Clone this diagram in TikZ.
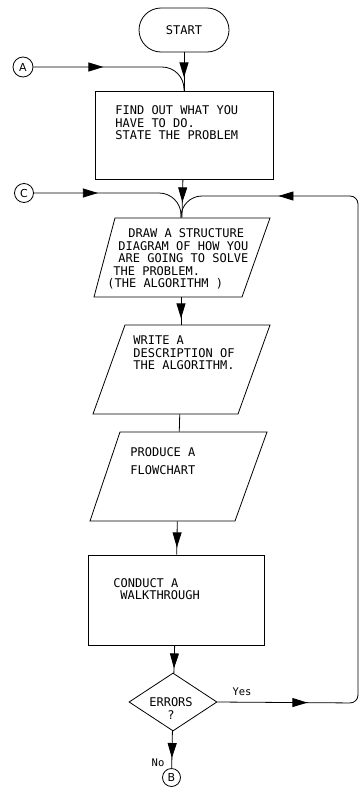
\documentclass[tikz,border=0pt]{standalone}
\usepackage{fontspec}
\newfontfamily\plotfont{DejaVu Sans Mono}
\newfontfamily\circfont{DejaVu Sans}
\usetikzlibrary{shapes.geometric,arrows.meta,decorations.markings}
\begin{document}
\begin{tikzpicture}[x=1pt,y=-1pt,line width=0.8pt,
  every node/.style={font=\plotfont\fontsize{12}{12.5}\selectfont},
  term/.style={draw,rounded corners=22pt,minimum width=90pt,minimum height=44pt,inner sep=0},
  procbox/.style={draw,inner sep=0},
  ioanchor/.style={draw=none,inner sep=0,minimum width=150pt},
  decide/.style={draw,diamond,inner sep=0,minimum width=88pt,minimum height=58pt},
  conn/.style={draw,circle,inner sep=0,font=\circfont\fontsize{11}{11}\selectfont},
  txt/.style={anchor=north west,align=left,inner sep=0},
  lbl/.style={inner sep=0,font=\plotfont\fontsize{10.5}{11}\selectfont},
  arrowat/.style={postaction={decorate},decoration={markings,mark=at position #1 with {\arrow{Triangle[length=15pt,width=9pt]}}}},
  arrowtwo/.style n args={2}{postaction={decorate},decoration={markings,
     mark=at position #1 with {\arrow{Triangle[length=15pt,width=9pt]}},
     mark=at position #2 with {\arrow{Triangle[length=15pt,width=9pt]}}}}
]
\useasboundingbox (0,0) rectangle (361,792);

% shapes
\node[term] (start) at (184,30) {START};
\node[procbox,minimum width=178pt,minimum height=88pt] (box1) at (184,135) {};
\node[ioanchor,minimum height=79pt] (para1) at (181,257.5) {};
\draw (115,218) -- (270,218) -- (242,297) -- (94,297) -- cycle;
\node[ioanchor,minimum height=89pt] (para2) at (181,369.5) {};
\draw (125,325) -- (270,325) -- (238,414) -- (93,414) -- cycle;
\node[ioanchor,minimum height=89pt] (para3) at (178,476.5) {};
\draw (120,432) -- (267,432) -- (235,521) -- (90,521) -- cycle;
\node[procbox,minimum width=176pt,minimum height=90pt] (box2) at (176,600) {};
\node[decide] (dia) at (173,702) {};

\node[conn,minimum size=20pt] (A) at (23,67) {A};
\node[conn,minimum size=19pt] (C) at (24,193) {C};
\node[conn,minimum size=18pt] (B) at (171.5,777.5) {B};

% texts
\node[txt] (t1) at (115,105.5) {FIND OUT WHAT YOU\\HAVE TO DO.\\STATE THE PROBLEM};
\node[txt] (t2) at (107,228.5) {\hspace*{21pt}DRAW A STRUCTURE\\\hspace*{11pt}DIAGRAM OF HOW YOU\\\hspace*{11pt}ARE GOING TO SOLVE\\\hspace*{6pt}THE PROBLEM.\\(THE ALGORITHM )};
\node[txt] (t3) at (133,335.5) {WRITE A\\DESCRIPTION OF\\THE ALGORITHM.};
\node[txt] (t4) at (130,447.5) {PRODUCE A\\[5.5pt]FLOWCHART};
\node[txt] (t5) at (113,578) {CONDUCT A\\\hspace*{7pt}WALKTHROUGH};
\node[align=center,inner sep=0] (et) at (171,708.5) {ERRORS\\?};
\node[lbl] (yes) at (242,692) {Yes};
\node[lbl] (no) at (158,763) {No};

% connectors
\coordinate (br) at (358,703);
\coordinate (tr) at (358,196);
\coordinate (mc) at (para1.north |- tr);

\draw[arrowat=25pt] (start) -- (box1);
\draw[arrowat=70pt,rounded corners=22pt] (A) -| (box1.north);
\draw[arrowat=23pt] (box1) -- (para1);
\draw[arrowat=64pt,rounded corners=22pt] (C) -| (para1.north);
\draw[arrowtwo={90pt}{-110pt},rounded corners=8pt] (dia.east) -- (br) -- (tr) [rounded corners=21pt] -- (mc) -- (para1.north);
\draw[arrowat=21pt] (para1) -- (para2);
\draw (para2) -- (para3);
\draw[arrowat=26pt] (para3) -- (box2);
\draw[arrowat=23pt] (box2) -- (dia);
\draw[arrowat=27pt] (dia) -- (B);
\end{tikzpicture}
\end{document}
